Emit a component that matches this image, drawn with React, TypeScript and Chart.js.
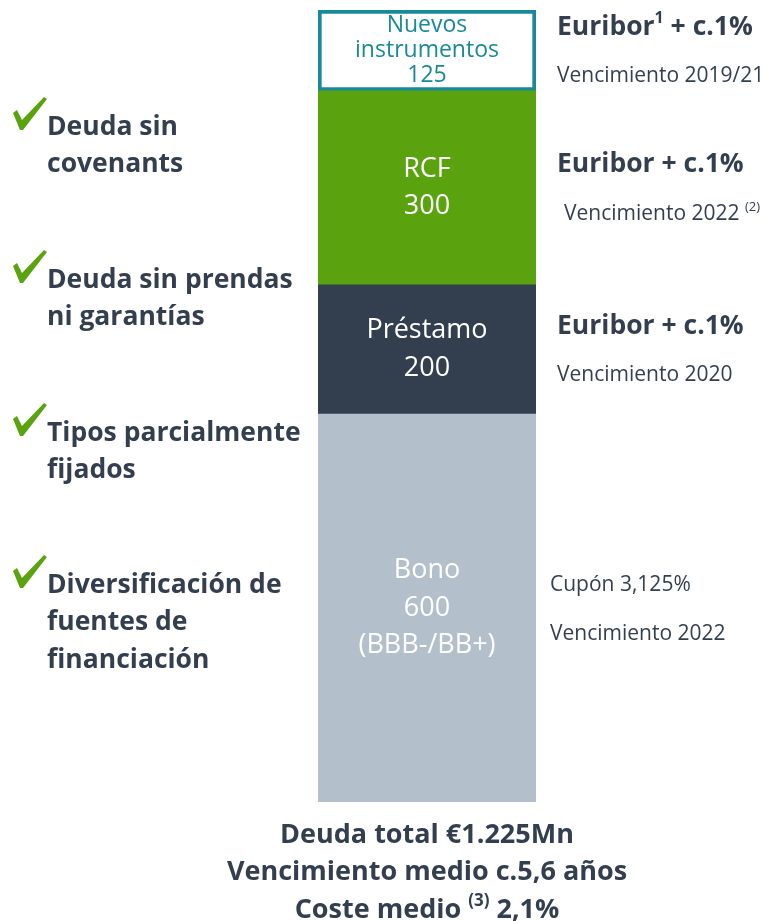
import React, { useEffect, useRef } from "react";
import { Chart, registerables } from "chart.js";

Chart.register(...registerables);

// ---- data ----
const categories = ["Deuda"];
const segmentNames = ["Bono", "Préstamo", "RCF", "Nuevos instrumentos"];
const segmentValues = [600, 200, 300, 125];
const segmentInnerLabels = [
  ["Bono", "600", "(BBB-/BB+)"],
  ["Préstamo", "200"],
  ["RCF", "300"],
  ["Nuevos", "instrumentos", "125"],
];
const segmentTerms = [
  [{ t: "Cupón 3,125%" }],
  [{ t: "Euribor + c.1%" }],
  [{ t: "Euribor + c.1%" }],
  [{ t: "Euribor" }, { t: "1", sup: true }, { t: " + c.1%" }],
];
const segmentMaturities = [
  [{ t: "Vencimiento 2022" }],
  [{ t: "Vencimiento 2020" }],
  [{ t: "Vencimiento 2022 " }, { t: "(2)", sup: true }],
  [{ t: "Vencimiento 2019/21" }],
];
const highlights = [
  ["Deuda sin", "covenants"],
  ["Deuda sin prendas", "ni garantías"],
  ["Tipos parcialmente", "fijados"],
  ["Diversificación de", "fuentes de", "financiación"],
];
const summaryLines = [
  [{ t: "Deuda total €1.225Mn" }],
  [{ t: "Vencimiento medio c.5,6 años" }],
  [{ t: "Coste medio " }, { t: "(3)", sup: true }, { t: " 2,1%" }],
];

// ---- styles ----
const FONT = "'Open Sans', 'Noto Sans', sans-serif";
const TEXT = "#333f4f";
const segmentColors = ["#b4bfcc", "#333f4f", "#5aa30e", "#ffffff"];
const segmentBorders = ["#b4bfcc", "#333f4f", "#5aa30e", "#17899a"];
const segmentBorderWidths = [0, 0, 0, 4];
const innerTextColors = ["#ffffff", "#ffffff", "#ffffff", "#17899a"];
const termBold = [false, true, true, true];
const highlightTops = [127, 280, 433, 585];

type Part = { t: string; sup?: boolean };

function drawRich(ctx: CanvasRenderingContext2D, parts: Part[], x: number, y: number, align: string, size: number, bold: boolean, color: string) {
  const w = bold ? "bold " : "";
  const fontFor = (p: Part) => `${w}${p.sup ? Math.round(size * 0.62) : size}px ${FONT}`;
  let total = 0;
  const widths = parts.map((p) => {
    ctx.font = fontFor(p);
    const m = ctx.measureText(p.t).width;
    total += m;
    return m;
  });
  let cx = align === "center" ? x - total / 2 : x;
  ctx.fillStyle = color;
  ctx.textAlign = "left";
  ctx.textBaseline = "middle";
  parts.forEach((p, i) => {
    ctx.font = fontFor(p);
    ctx.fillText(p.t, cx, p.sup ? y - size * 0.32 : y);
    cx += widths[i];
  });
}

function drawCheck(ctx: CanvasRenderingContext2D, x: number, yBottom: number) {
  ctx.save();
  ctx.fillStyle = "#5aa30e";
  ctx.beginPath();
  ctx.moveTo(x, yBottom - 17);
  ctx.lineTo(x + 4, yBottom - 20);
  ctx.lineTo(x + 9, yBottom - 10);
  ctx.lineTo(x + 31, yBottom - 33);
  ctx.lineTo(x + 34, yBottom - 31);
  ctx.lineTo(x + 10, yBottom);
  ctx.lineTo(x + 7, yBottom);
  ctx.closePath();
  ctx.fill();
  ctx.restore();
}

const annotationsPlugin = {
  id: "annotations",
  afterDatasetsDraw(chart: any) {
    const ctx: CanvasRenderingContext2D = chart.ctx;
    const area = chart.chartArea;
    ctx.save();
    segmentValues.forEach((_, i) => {
      const bar = chart.getDatasetMeta(i).data[0];
      if (!bar) return;
      const top = Math.min(bar.y, bar.base);
      const bottom = Math.max(bar.y, bar.base);
      const cy = (top + bottom) / 2;
      const lines = segmentInnerLabels[i];
      const size = i === 3 ? 23 : 27;
      const lh = i === 3 ? 25 : 37.5;
      const start = cy - ((lines.length - 1) * lh) / 2;
      lines.forEach((ln, k) => {
        drawRich(ctx, [{ t: ln }], bar.x, start + k * lh, "center", size, false, innerTextColors[i]);
      });
      // right side terms
      const rx = area.right + (i === 0 ? 14 : 21);
      drawRich(ctx, segmentTerms[i], rx, cy - 23, "left", termBold[i] ? 26.5 : 21, termBold[i], TEXT);
      drawRich(ctx, segmentMaturities[i], rx + (i === 2 ? 7 : 0), cy + 26, "left", 21, false, TEXT);
    });
    // left highlights
    highlights.forEach((lines, i) => {
      const y0 = highlightTops[i];
      drawCheck(ctx, 13, y0 + 3);
      lines.forEach((ln, k) => {
        drawRich(ctx, [{ t: ln }], 47, y0 + k * 37.5, "left", 26.5, true, TEXT);
      });
    });
    // summary
    const cx = (area.left + area.right) / 2;
    summaryLines.forEach((parts, k) => {
      drawRich(ctx, parts, cx, area.bottom + 33 + k * 37.5, "center", 27, true, TEXT);
    });
    ctx.restore();
  },
};

export default function App() {
  const ref = useRef<HTMLCanvasElement | null>(null);
  useEffect(() => {
    if (!ref.current) return;
    const chart = new Chart(ref.current, {
      type: "bar",
      data: {
        labels: categories,
        datasets: segmentNames.map((name, i) => ({
          label: name,
          data: [segmentValues[i]],
          backgroundColor: segmentColors[i],
          borderColor: segmentBorders[i],
          borderWidth: segmentBorderWidths[i],
          borderSkipped: false,
          barPercentage: 1,
          categoryPercentage: 1,
        })),
      },
      options: {
        animation: false,
        responsive: true,
        maintainAspectRatio: false,
        layout: { padding: { left: 318, right: 232, top: 10, bottom: 119 } },
        plugins: { legend: { display: false }, tooltip: { enabled: false } },
        scales: {
          x: { stacked: true, display: false },
          y: { stacked: true, display: false, min: 0, max: segmentValues.reduce((a, b) => a + b, 0) },
        },
      },
      plugins: [annotationsPlugin],
    });
    return () => chart.destroy();
  }, []);
  return (
    <div style={{ position: "absolute", left: 0, top: 0, width: 768, height: 921, background: "#fff" }}>
      <canvas ref={ref} />
    </div>
  );
}
